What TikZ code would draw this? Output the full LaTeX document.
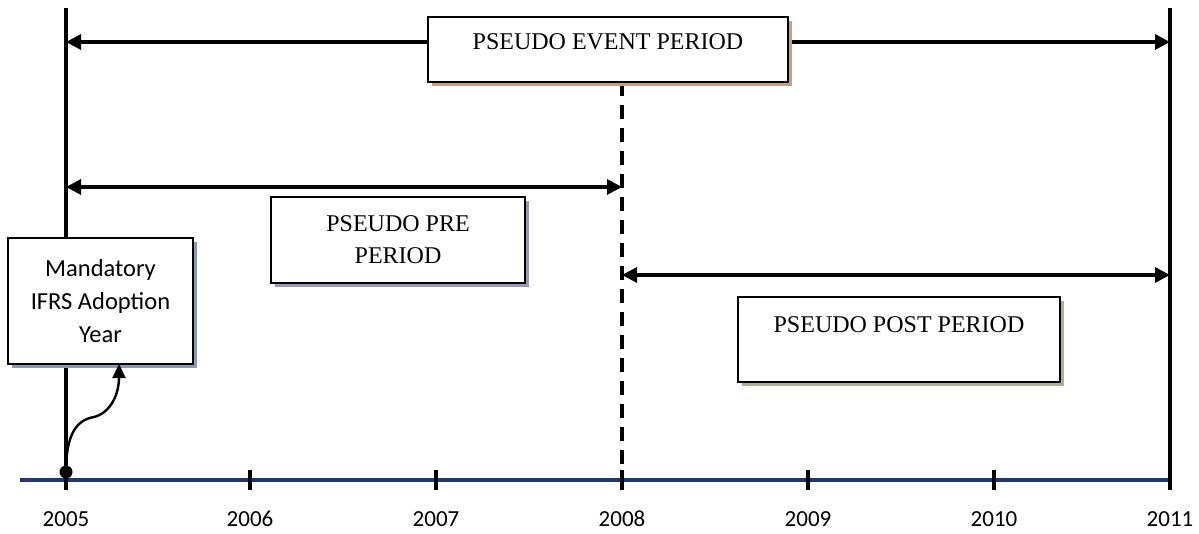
\documentclass[tikz,border=0pt]{standalone}
\usepackage{fontspec}
\setmainfont{Liberation Serif}
\newfontfamily\calib{Carlito}
\usetikzlibrary{arrows.meta,shadows}
\definecolor{axisblue}{HTML}{1F3864}
\definecolor{shbrown}{HTML}{C9A07E}
\definecolor{shpurple}{HTML}{9A98B0}
\definecolor{sholive}{HTML}{A8B48E}
\definecolor{shblue}{HTML}{8A9AB4}
\begin{document}
\begin{tikzpicture}[x=1pt,y=-1pt,
  line/.style={line width=3.2pt},
  span/.style={line width=3.2pt,{Triangle[length=15pt,width=15pt]}-{Triangle[length=15pt,width=15pt]}},
  box/.style={draw=black,line width=2.6pt,fill=white,inner sep=0pt},
  boxtext/.style={font=\fontsize{24}{32}\selectfont,align=center,inner sep=0pt},
  yearlab/.style={font=\calib\fontsize{23}{26}\selectfont,inner sep=0pt}
]
\useasboundingbox (0,0) rectangle (1199,534);
% axis
\coordinate (a0) at (20,480);
\coordinate (a1) at (1170,480);
\draw[axisblue,line width=3.4pt] (a0) -- (a1);
\foreach \x/\yr in {66/2005,250/2006,436/2007,622/2008,808/2009,994/2010,1170/2011}{
  \coordinate (t\yr) at (\x,480);
  \coordinate (tt\yr) at (\x,470);
  \coordinate (tb\yr) at (\x,490);
  \draw[line width=3.2pt] (tt\yr) -- (tb\yr);
  \node[yearlab] (l\yr) at (\x,519) {\yr};
}
% vertical lines
\coordinate (v5top) at (66,8);
\coordinate (v11top) at (1170,8);
\draw[line] (v5top) -- (tb2005);
\draw[line] (v11top) -- (tb2011);
\coordinate (v8top) at (622,82);
\draw[line width=3.4pt,dash pattern=on 14pt off 9pt] (v8top) -- (t2008);
% span arrows
\coordinate (e0) at (66,42); \coordinate (e1) at (1170,42);
\draw[span] (e0) -- (e1);
\coordinate (p0) at (66,187); \coordinate (p1) at (622,187);
\draw[span] (p0) -- (p1);
\coordinate (q0) at (622,275); \coordinate (q1) at (1170,275);
\draw[span] (q0) -- (q1);
% boxes
\node[box,minimum width=360pt,minimum height=65pt,
  drop shadow={shadow xshift=4pt,shadow yshift=-4pt,fill=shbrown,opacity=1}] (ev) at (608,49.5) {};
\node[boxtext] (evt) at (608,42) {PSEUDO EVENT PERIOD};
\node[box,minimum width=254pt,minimum height=86pt,
  drop shadow={shadow xshift=4pt,shadow yshift=-4pt,fill=shpurple,opacity=1}] (pre) at (398,240) {};
\node[boxtext] (pret) at (398,240) {PSEUDO PRE\\PERIOD};
\node[box,minimum width=322pt,minimum height=85pt,
  drop shadow={shadow xshift=4pt,shadow yshift=-4pt,fill=sholive,opacity=1}] (post) at (899,339.5) {};
\node[boxtext] (postt) at (899,325) {PSEUDO POST PERIOD};
\node[box,minimum width=185pt,minimum height=126pt,
  drop shadow={shadow xshift=4pt,shadow yshift=-4pt,fill=shblue,opacity=1}] (mand) at (100.5,301) {};
\node[font=\calib\fontsize{24.5}{33}\selectfont,align=center,inner sep=0pt] (mandt) at (100.5,301) {Mandatory\\IFRS Adoption\\Year};
% dot and curved arrow
\node[circle,fill=black,minimum size=13pt,inner sep=0pt] (dot) at (66,472) {};
\coordinate (tip) at (119,364);
\draw[line width=2.4pt,-{Triangle[length=14pt,width=13pt]}] (dot.center) .. controls (66,435) and (76,420) .. (94,417) .. controls (110,413) and (119,395) .. (tip);
\end{tikzpicture}
\end{document}
